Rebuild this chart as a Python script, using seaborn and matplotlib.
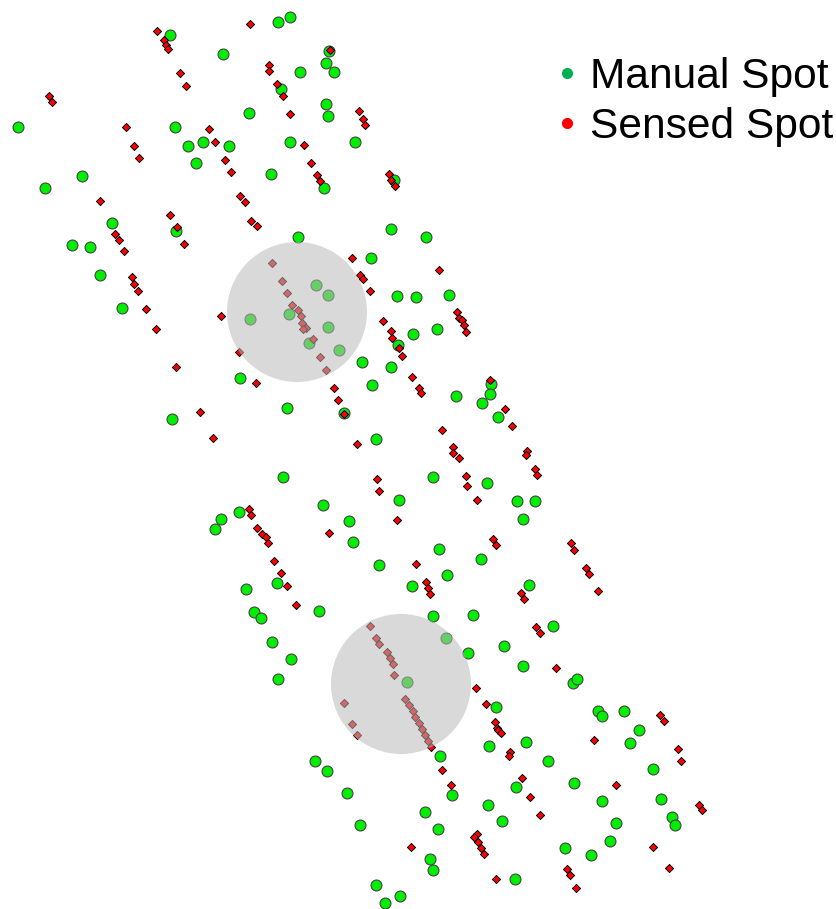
import numpy as np
import pandas as pd
import matplotlib
matplotlib.use("Agg")
import matplotlib.pyplot as plt
from matplotlib.lines import Line2D
from matplotlib.patches import Circle
import seaborn as sns

# Manual spots (x, y in image pixels, y grows downward)
manual_x = [170, 223, 18, 175, 188, 203, 229, 196, 82, 45, 112, 176,
            278, 290, 329, 326, 334, 300, 281, 326, 328, 249, 290, 355, 271, 324, 394, 391, 426, 298,
            72, 90, 100, 122, 172,
            316, 328, 289, 250, 328, 309, 339,
            371, 397, 416, 449, 413, 437, 398, 362, 391, 372, 240, 287, 344, 376, 456,
            491, 490, 482, 498,
            283, 239, 221, 215, 323, 349, 353, 399, 433, 379, 439, 412, 433, 277, 246, 254, 261, 319, 272, 291, 278, 407,
            487, 517, 535, 523, 481, 447, 529, 473, 553, 446, 468, 504, 523, 573, 577,
            315, 327, 347, 360, 425, 438, 430, 433, 376, 400, 385, 440,
            496, 489, 526, 548, 516, 452, 488, 502, 574, 602, 616, 610, 565, 591, 515,
            598, 602, 624, 639, 630, 653, 661, 672, 675]
manual_y = [35, 54, 127, 127, 146, 142, 146, 163, 176, 188, 223, 231,
            22, 17, 51, 63, 72, 72, 89, 104, 116, 113, 142, 142, 174, 188, 180, 229, 237, 237,
            245, 247, 275, 308, 419,
            285, 295, 314, 319, 327, 343, 350,
            258, 296, 297, 295, 334, 329, 345, 362, 367, 385, 378, 408, 413, 439, 396,
            384, 394, 403, 417,
            477, 512, 519, 529, 505, 521, 542, 500, 477, 565, 549, 586, 616, 583, 589, 612, 618, 611, 642, 659, 679, 682,
            483, 501, 501, 519, 559, 575, 585, 615, 626, 638, 653, 646, 666, 683, 679,
            761, 771, 793, 825, 812, 829, 859, 870, 885, 896, 903, 756,
            707, 746, 742, 761, 787, 795, 805, 821, 783, 801, 823, 841, 848, 855, 879,
            711, 716, 711, 730, 743, 769, 799, 817, 825]

# Sensed spots
sensed_x = [157, 164, 166, 168, 180, 186, 49, 52, 126, 134, 139, 209, 215, 225, 231, 240, 100, 170, 177, 115, 119,
            250, 330, 269, 269, 277, 283, 290, 359, 363, 365, 304, 311, 317, 320, 389, 391, 395, 245, 251, 257,
            124, 132, 134, 138, 146, 156, 184, 221, 239, 176, 200, 213,
            272, 282, 287, 292, 298, 301, 302, 306, 303, 313, 320, 326,
            352, 360, 363, 370, 383, 391, 392, 399, 402, 439, 457, 459, 462, 464, 466, 256, 334, 338, 344,
            412, 419, 421, 442, 357, 453, 453, 459,
            490, 505, 512, 527, 526, 535,
            377, 379, 397, 249, 251, 257, 262, 266, 268, 329, 274, 281, 287, 296, 416, 426, 428, 430,
            370, 376, 379, 387, 390, 393, 394,
            466, 467, 477, 537, 493, 496, 571, 574, 586, 589, 598, 521, 524, 536, 540, 556, 476,
            344, 352, 357, 405, 409, 413, 415, 419, 422, 425, 428, 431, 411,
            486, 495, 497, 498, 501, 510, 509, 442, 451, 522, 530, 540, 477, 474, 478, 481, 484, 496,
            567, 570, 576, 594, 616, 660, 664, 678, 681, 699, 702, 653, 669]
sensed_y = [31, 40, 45, 49, 73, 86, 96, 102, 127, 146, 158, 129, 142, 160, 172, 196, 201, 215, 227, 234, 240,
            24, 50, 65, 71, 84, 96, 114, 111, 119, 125, 145, 163, 175, 181, 174, 180, 186, 202, 221, 226,
            251, 277, 284, 291, 309, 329, 244, 316, 352, 367, 412, 438,
            263, 281, 293, 305, 310, 316, 323, 328, 329, 339, 357, 370,
            258, 275, 279, 291, 321, 331, 338, 348, 356, 270, 312, 318, 320, 325, 332, 383, 388, 400, 414,
            377, 388, 393, 430, 444, 447, 453, 458,
            380, 409, 426, 451, 455, 469,
            479, 491, 520, 509, 515, 528, 534, 537, 543, 533, 561, 573, 586, 605, 564, 582, 588, 594,
            626, 638, 644, 652, 658, 664, 675,
            476, 486, 500, 475, 539, 545, 543, 550, 568, 574, 591, 593, 599, 627, 633, 668, 688,
            703, 724, 735, 699, 705, 711, 717, 723, 729, 735, 741, 747, 847,
            704, 722, 728, 730, 733, 752, 756, 770, 785, 778, 797, 815, 834, 837, 842, 848, 854, 879,
            869, 875, 888, 740, 785, 715, 721, 749, 761, 805, 810, 847, 868]

# Highlighted zones (centre x, centre y, radius)
zone_x = [297, 401]
zone_y = [312, 684]
zone_r = [70, 70]

manual = pd.DataFrame({"x": manual_x, "y": manual_y})
sensed = pd.DataFrame({"x": sensed_x, "y": sensed_y})

sns.set_style("white")
plt.rcParams["font.family"] = ["Liberation Sans", "DejaVu Sans"]

fig = plt.figure(figsize=(8.37, 9.09), dpi=100)
ax = fig.add_axes([0, 0, 1, 1])

sns.scatterplot(data=manual, x="x", y="y", ax=ax, marker="o", s=62,
                color="#00ee00", edgecolor="#444444", linewidth=0.8, legend=False, zorder=2)
sns.scatterplot(data=sensed, x="x", y="y", ax=ax, marker="D", s=17,
                color="#ff0000", edgecolor="black", linewidth=0.7, legend=False, zorder=3)

for cx, cy, r in zip(zone_x, zone_y, zone_r):
    ax.add_patch(Circle((cx, cy), r, facecolor="#bababa", edgecolor="none", alpha=0.55, zorder=4))

ax.set_xlim(0, 837)
ax.set_ylim(909, 0)
ax.set_aspect("equal")
ax.axis("off")

handles = [Line2D([], [], linestyle="none", marker="o", markersize=7, color="#00b050"),
           Line2D([], [], linestyle="none", marker="o", markersize=7, color="#ff0000")]
fig.legend(handles, ["Manual Spot", "Sensed Spot"], loc="upper left",
           bbox_to_anchor=(0.667, 0.937), fontsize=30.6, frameon=False,
           borderpad=0, borderaxespad=0, handlelength=0.4, handletextpad=0.35,
           labelspacing=0.22, labelcolor="black")

fig.savefig("out.png", dpi=100)
